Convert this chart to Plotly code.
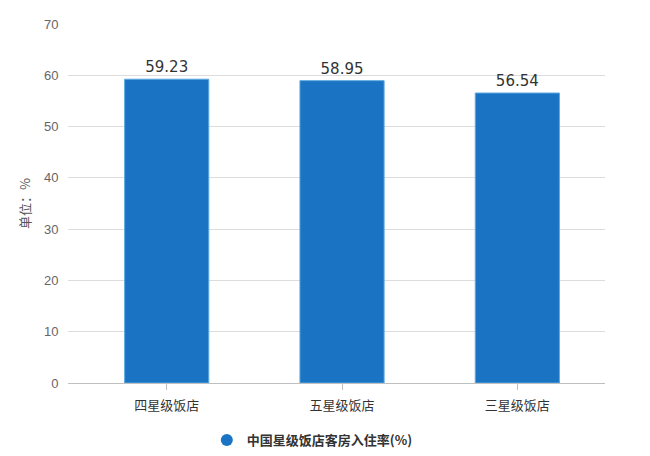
import plotly.graph_objects as go

categories = ["四星级饭店", "五星级饭店", "三星级饭店"]
values = [59.23, 58.95, 56.54]
series_name = "中国星级饭店客房入住率(%)"
y_ticks = [0, 10, 20, 30, 40, 50, 60, 70]

bar_color = "#1a74c3"
font_family = "Noto Sans CJK SC, Noto Sans, sans-serif"

fig = go.Figure()
fig.add_trace(go.Bar(
    x=list(range(len(categories))),
    y=values,
    width=0.48,
    marker=dict(color=bar_color, line=dict(color="#5aa8e0", width=1)),
    text=[f"{v:.2f}" for v in values],
    textposition="outside",
    textfont=dict(size=15, color="#333333", family="DejaVu Sans"),
    cliponaxis=False,
    showlegend=False,
    hoverinfo="x+y",
))
fig.add_trace(go.Scatter(
    x=[None], y=[None], mode="markers", name=series_name,
    marker=dict(symbol="circle", size=11, color=bar_color),
    showlegend=True,
))

fig.update_layout(
    width=650, height=456,
    margin=dict(l=68, r=45, t=24, b=73, autoexpand=False),
    paper_bgcolor="white", plot_bgcolor="white",
    font=dict(family=font_family, color="#555555"),
    xaxis=dict(
        range=[-0.563, 2.5],
        tickmode="array",
        tickvals=list(range(len(categories))),
        ticktext=categories,
        showgrid=False,
        showline=True, linecolor="#c0c0c0", linewidth=1,
        ticks="outside", ticklen=6, tickcolor="#c0c0c0",
        ticklabelstandoff=4,
        tickfont=dict(size=13, color="#333333", family=font_family),
        zeroline=False,
        automargin=False,
    ),
    yaxis=dict(
        range=[0, 70],
        tickmode="array",
        tickvals=y_ticks,
        showgrid=True, gridcolor="#dcdcdc", gridwidth=1,
        zeroline=False,
        tickfont=dict(size=13, color="#666666", family="Liberation Sans, Arial, sans-serif"),
        ticklen=6, ticks="outside", tickcolor="rgba(0,0,0,0)",
        title=dict(text="单位：%", font=dict(size=13, color="#555555", family=font_family), standoff=10),
        automargin=False,
    ),
    legend=dict(
        orientation="h", x=0.455, xanchor="center",
        yref="container", y=0.035, yanchor="middle",
        font=dict(size=13, color="#333333", family=font_family, weight="bold"),
        itemsizing="constant",
    ),
)

fig.write_html(
    "out.html",
    config={"displayModeBar": False},
    post_script="document.body.style.margin='0';document.body.style.overflow='hidden';",
)
